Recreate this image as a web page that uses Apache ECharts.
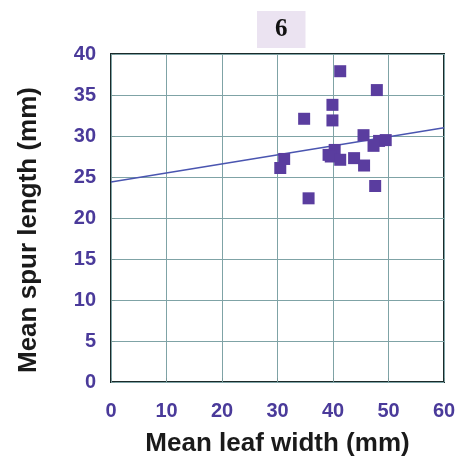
<!DOCTYPE html>
<html><head><meta charset="utf-8">
<script src="https://cdn.jsdelivr.net/npm/echarts@6/dist/echarts.min.js"></script>
<style>html,body{margin:0;padding:0;background:#fff}#c{width:461px;height:462px}</style>
</head><body><div id="c"></div>
<script>
var leafWidth = [41.3, 47.9, 39.9, 34.8, 39.9, 45.5, 49.5, 48.3, 47.3, 40.3, 39.2, 39.6, 41.3, 43.8, 45.6, 31.2, 30.5, 47.6, 35.6];
var spurLength = [37.9, 35.6, 33.8, 32.1, 31.9, 30.1, 29.5, 29.4, 28.8, 28.3, 27.7, 27.5, 27.1, 27.3, 26.4, 27.2, 26.1, 23.9, 22.4];
var trendX = [0, 60];
var trendY = [24.4, 31.0];
var xTicks = [0, 10, 20, 30, 40, 50, 60];
var yTicks = [0, 5, 10, 15, 20, 25, 30, 35, 40];
var panelLabel = '6';

var pts = leafWidth.map(function(v, i){ return [v, spurLength[i]]; });
var line = trendX.map(function(v, i){ return [v, trendY[i]]; });
var chart = echarts.init(document.getElementById('c'));
var labelColor = '#4a3a9a';
chart.setOption({
  animation: false,
  grid: {left: 111, right: 17, top: 54, bottom: 77, show: true, borderColor: '#1a2a2a', borderWidth: 2},
  title: {text: panelLabel, left: 257, top: 11, padding: [6, 18, 6, 18], backgroundColor: '#ebe3f1',
    textStyle: {fontFamily: 'Liberation Serif', fontWeight: 'bold', fontSize: 25, color: '#111'}},
  xAxis: {type: 'value', min: 0, max: 60, interval: 10,
    name: 'Mean leaf width (mm)', nameLocation: 'middle', nameGap: 49,
    nameTextStyle: {fontFamily: 'Liberation Sans', fontWeight: 'bold', fontSize: 26, color: '#1a1a1a'},
    axisLine: {show: false}, axisTick: {show: true, inside: true, length: 4, lineStyle: {color: '#7a9a9a'}},
    axisLabel: {fontFamily: 'Liberation Sans', fontWeight: 'bold', fontSize: 20, color: labelColor, margin: 19,
      formatter: function(v){ return xTicks.indexOf(v) >= 0 ? String(v) : ''; }},
    splitLine: {show: true, lineStyle: {color: '#7fa3a6', width: 1}}},
  yAxis: {type: 'value', min: 0, max: 40, interval: 5,
    name: 'Mean spur length (mm)', nameLocation: 'middle', nameGap: 69, nameRotate: 90,
    nameTextStyle: {fontFamily: 'Liberation Sans', fontWeight: 'bold', fontSize: 26, color: '#1a1a1a', padding: [0, 24, 0, 0]},
    axisLine: {show: false}, axisTick: {show: true, inside: true, length: 4, lineStyle: {color: '#7a9a9a'}},
    axisLabel: {fontFamily: 'Liberation Sans', fontWeight: 'bold', fontSize: 20, color: labelColor, margin: 15,
      formatter: function(v){ return yTicks.indexOf(v) >= 0 ? String(v) : ''; }},
    splitLine: {show: true, lineStyle: {color: '#7fa3a6', width: 1}}},
  series: [
    {type: 'line', data: line, symbol: 'none', lineStyle: {color: '#4a55b0', width: 1.5}, z: 3},
    {type: 'scatter', data: pts, symbol: 'rect', symbolSize: 12, itemStyle: {color: '#5a3d9f', opacity: 1}, z: 4}
  ]
});
</script></body></html>
